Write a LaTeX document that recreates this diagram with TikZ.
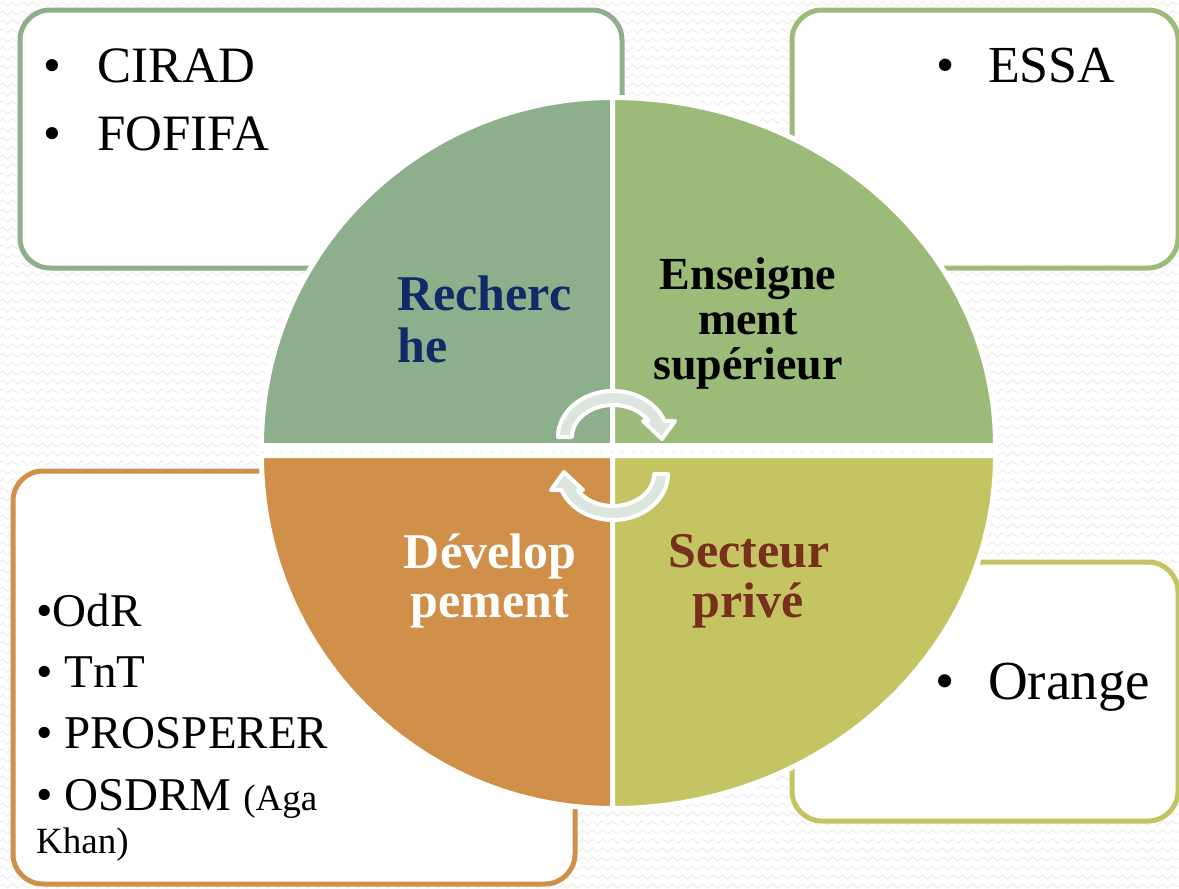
\documentclass[tikz,border=0pt]{standalone}
\usepackage{fontspec}
\setmainfont{Liberation Serif}
\usetikzlibrary{decorations.pathmorphing}
\definecolor{cRech}{HTML}{8DAF8B}
\definecolor{cEns}{HTML}{9DBB78}
\definecolor{cDev}{HTML}{D1904A}
\definecolor{cSec}{HTML}{C5C463}
\definecolor{cNavy}{HTML}{0F2A66}
\definecolor{cBrown}{HTML}{76301C}
\definecolor{cArrow}{HTML}{DCE5DE}
\definecolor{cZig}{HTML}{EEEEEE}
\begin{document}
\begin{tikzpicture}[x=1pt,y=-1pt,
  bgz/.style={draw=cZig, line width=1pt, decorate, decoration={zigzag, segment length=10pt, amplitude=2pt}},
  box/.style={line width=5pt, rounded corners=30pt, fill=white},
  quad/.style={draw=white, line width=5pt},
  cyc/.style={fill=cArrow, draw=white, line width=4pt, line join=round},
  lbl/.style={inner sep=0pt, anchor=base, font=\bfseries\fontsize{50}{60}\selectfont},
  ens/.style={lbl, font=\bfseries\fontsize{46}{55}\selectfont, text=black},
  item/.style={inner sep=0pt, anchor=base west, text=black},
  big/.style={item, font=\fontsize{51}{60}\selectfont},
  mid/.style={item, font=\fontsize{47}{56}\selectfont},
]
\useasboundingbox (0,0) rectangle (1179,889);
\fill[white] (0,0) rectangle (1179,889);
\foreach \yy in {4,13,...,889} \draw[bgz] (0,\yy) -- (1179,\yy);

% boxes
\draw[box, draw=cRech] (20,10) rectangle (622,268);
\draw[box, draw=cEns] (792,10) rectangle (1178,268);
\draw[box, draw=cDev] (13,471) rectangle (575,884);
\draw[box, draw=cSec] (792,562) rectangle (1178,821);

% quadrants
\draw[quad, fill=cRech] (612.5,445.5) -- (261.5,445.5) arc[start angle=180, end angle=270, x radius=351, y radius=348] -- cycle;
\draw[quad, fill=cEns] (612.5,445.5) -- (612.5,97.5) arc[start angle=270, end angle=360, x radius=383, y radius=348] -- cycle;
\draw[quad, fill=cDev] (612.5,455.5) -- (261.5,455.5) arc[start angle=180, end angle=90, x radius=351, y radius=353] -- cycle;
\draw[quad, fill=cSec] (612.5,455.5) -- (995.5,455.5) arc[start angle=0, end angle=90, x radius=383, y radius=353] -- cycle;

% cycle arrows
\begin{scope}[shift={(613,437)}]
\draw[cyc] (-55,0) arc[start angle=180, end angle=339.6, x radius=55, y radius=46] -- (62,-16) -- (49,2) -- (30,-16) -- (35.5,-16) arc[start angle=330, end angle=180, x radius=41, y radius=32] -- cycle;
\end{scope}
\begin{scope}[shift={(613,474)}]
\draw[cyc] (55,0) arc[start angle=0, end angle=159.6, x radius=55, y radius=46] -- (-62,16) -- (-49,-2) -- (-30,16) -- (-35.5,16) arc[start angle=150, end angle=0, x radius=41, y radius=32] -- cycle;
\end{scope}

% quadrant labels
\node[lbl, anchor=base west, text=cNavy] (rech1) at (397,310) {Recherc};
\node[lbl, anchor=base west, text=cNavy] (rech2) at (397,362) {he};
\node[ens] (ens1) at (748,289) {Enseigne};
\node[ens] (ens2) at (748,334) {ment};
\node[ens] (ens3) at (748,379) {supérieur};
\node[lbl, text=white] (dev1) at (490,568) {Dévelop};
\node[lbl, text=white] (dev2) at (490,617) {pement};
\node[lbl, text=cBrown] (sec1) at (749,567) {Secteur};
\node[lbl, text=cBrown] (sec2) at (748,617) {privé};

% box texts
\node[big] (cirad) at (43,82) {\makebox[54pt][l]{•}CIRAD};
\node[big] (fofifa) at (43,150) {\makebox[54pt][l]{•}FOFIFA};
\node[item, font=\fontsize{52}{60}\selectfont] (essa) at (936,82) {\makebox[52pt][l]{•}ESSA};
\node[item, font=\fontsize{55}{64}\selectfont] (orange) at (935,699) {\makebox[53pt][l]{•}Orange};
\node[mid] (odr) at (36,626) {•OdR};
\node[mid] (tnt) at (36,687) {• TnT};
\node[mid] (prosp) at (36,748) {• PROSPERER};
\node[mid] (osdrm) at (36,810) {• OSDRM {\fontsize{37}{44}\selectfont(Aga}};
\node[item, font=\fontsize{37}{44}\selectfont] (khan) at (36,853) {Khan)};
\end{tikzpicture}
\end{document}
